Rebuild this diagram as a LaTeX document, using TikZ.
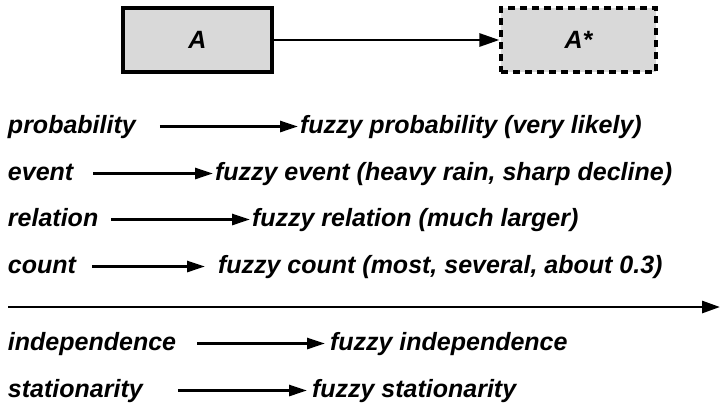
\documentclass[tikz,border=0pt]{standalone}
\usepackage{fontspec}
\setmainfont{Liberation Sans}
\usetikzlibrary{arrows.meta}
\definecolor{boxgray}{RGB}{217,217,217}
\begin{document}
\begin{tikzpicture}[x=1pt,y=-1pt,
  font=\fontsize{25}{30}\selectfont\bfseries\itshape,
  lbl/.style={anchor=base west, inner sep=0pt, outer sep=0pt, text height=18pt, text depth=5pt},
  arr/.style={line width=2.8pt, -{Triangle[length=18pt,width=11pt]}},
  toparr/.style={line width=2.8pt, -{Triangle[length=20pt,width=13pt]}},
  box/.style={draw, line width=3.2pt, fill=boxgray, minimum width=149pt, minimum height=64pt, inner sep=0pt}]
\useasboundingbox (0,0) rectangle (720,405);
% top boxes
\node[box] (A) at (197.5,40) {A};
\node[box, dashed, dash pattern=on 7pt off 5pt, minimum width=155pt] (As) at (578.5,40) {A*};
\draw[toparr] (A.east) -- (As.west);
% rows
\node[lbl] (l1) at (8,133) {probability};
\node[lbl] (r1) at (300,133) {fuzzy probability (very likely)};
\draw[arr, shorten <=24pt, shorten >=2pt] (l1.east) -- (r1.west);
\node[lbl] (l2) at (8,180) {event};
\node[lbl] (r2) at (215,180) {fuzzy event (heavy rain, sharp decline)};
\draw[arr, shorten <=20pt, shorten >=2pt] (l2.east) -- (r2.west);
\node[lbl] (l3) at (8,226) {relation};
\node[lbl] (r3) at (252,226) {fuzzy relation (much larger)};
\draw[arr, shorten <=13pt, shorten >=2pt] (l3.east) -- (r3.west);
\node[lbl] (l4) at (8,273) {count};
\node[lbl] (r4) at (218,273) {fuzzy count (most, several, about 0.3)};
\draw[arr, shorten <=16pt, shorten >=13pt] (l4.east) -- (r4.west);
% long line
\coordinate (L0) at (8,307);
\coordinate (L1) at (720,307);
\draw[line width=2.8pt, -{Triangle[length=18pt,width=12pt]}] (L0) -- (L1);
% lower rows
\node[lbl] (l5) at (8,350) {independence};
\node[lbl] (r5) at (330,350) {fuzzy independence};
\draw[arr, shorten <=21pt, shorten >=5pt] (l5.east) -- (r5.west);
\node[lbl] (l6) at (8,397) {stationarity};
\node[lbl] (r6) at (312,397) {fuzzy stationarity};
\draw[arr, shorten <=35pt, shorten >=5pt] (l6.east) -- (r6.west);
\end{tikzpicture}
\end{document}
